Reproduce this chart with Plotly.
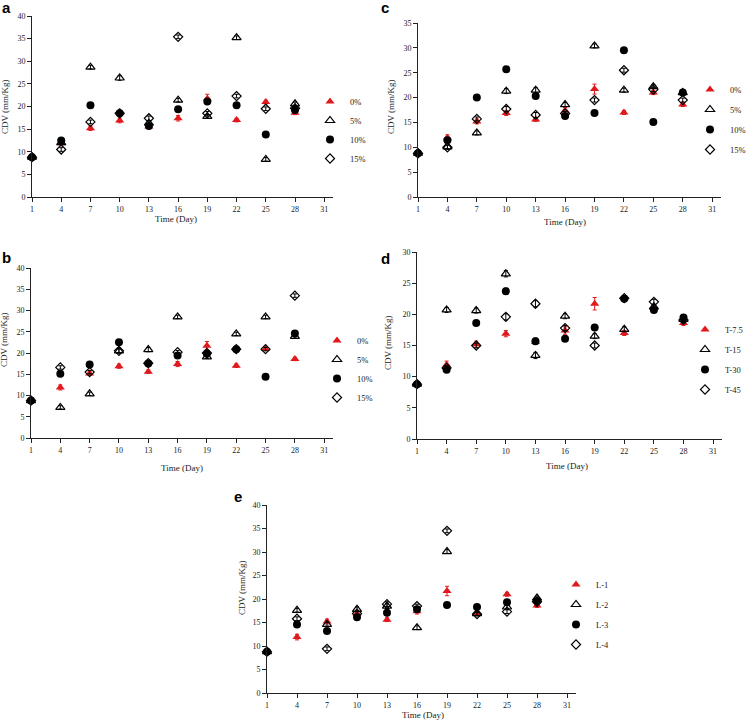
import plotly.graph_objects as go

# ---------------- data ----------------
days = [1, 4, 7, 10, 13, 16, 19, 22, 25, 28]
x_ticks = [1, 4, 7, 10, 13, 16, 19, 22, 25, 28, 31]

ctrl = [8.8, 11.9, 15.2, 16.9, 15.6, 17.4, 21.7, 17.0, 21.0, 18.6]
ctrl_err = [0.2, 0.6, 0.5, 0.5, 0.4, 0.6, 1.0, 0.4, 0.4, 0.4]

a_5 = [8.8, 12.0, 28.7, 26.3, 16.3, 21.4, 17.8, 35.2, 8.3, 20.6]
a_10 = [8.8, 12.5, 20.3, 18.5, 15.7, 19.4, 21.1, 20.3, 13.8, 19.2]
a_15 = [8.8, 10.5, 16.6, 18.5, 17.4, 35.4, 18.5, 22.3, 19.5, 19.6]

b_5 = [8.8, 7.2, 10.4, 20.5, 20.8, 28.5, 19.1, 24.5, 28.5, 23.9]
b_10 = [8.8, 15.1, 17.3, 22.5, 17.5, 19.4, 19.8, 20.9, 14.4, 24.6]
b_15 = [8.8, 16.6, 15.5, 20.5, 17.6, 20.2, 20.0, 20.9, 20.9, 33.5]

c_5 = [8.8, 10.1, 12.9, 21.3, 21.5, 18.6, 30.4, 21.5, 22.2, 21.0]
c_10 = [8.8, 11.4, 20.0, 25.7, 20.3, 16.3, 16.9, 29.5, 15.1, 21.0]
c_15 = [8.8, 10.0, 15.7, 17.7, 16.5, 16.8, 19.5, 25.5, 21.6, 19.5]

d_15 = [8.8, 20.7, 20.6, 26.5, 13.4, 19.7, 16.5, 17.6, 21.2, 19.2]
d_30 = [8.8, 11.1, 18.6, 23.7, 15.7, 16.1, 17.9, 22.5, 20.7, 19.5]
d_45 = [8.8, 11.4, 15.0, 19.6, 21.7, 17.8, 15.0, 22.6, 22.0, 19.1]

e_2 = [8.8, 17.6, 14.6, 17.8, 18.5, 13.9, 30.1, 16.9, 18.3, 20.2]
e_3 = [8.8, 14.6, 13.2, 16.1, 17.1, 17.8, 18.7, 18.3, 19.3, 19.6]
e_4 = [8.8, 15.8, 9.4, 16.9, 18.9, 18.5, 34.5, 16.8, 17.3, 19.4]

err_s = [0.2, 0.4, 0.4, 0.5, 0.5, 0.4, 0.4, 0.4, 0.4, 0.4]

names_pct = ["0%", "5%", "10%", "15%"]
names_t = ["T-7.5", "T-15", "T-30", "T-45"]
names_l = ["L-1", "L-2", "L-3", "L-4"]

# ---------------- layout helpers ----------------
W, H = 746, 723
def px(x):
    return x / W
def py(y):
    return 1 - y / H

SERIF = "Liberation Serif"
RED = "#e0191c"

# leg: left edge x px, top y px of the legend box
panels = [
    dict(k="a", series=[ctrl, a_5, a_10, a_15], names=names_pct,
         x0=32, x1=333, yb=197, yt=16, ymax=40, leg=(310, 87), gap=0,
         lab=(6, 8), ytit=(5, 107), xtit=(176, 219)),
    dict(k="c", series=[ctrl, c_5, c_10, c_15], names=names_pct,
         x0=418, x1=721, yb=197, yt=23, ymax=35, leg=(690, 75), gap=1,
         lab=(385, 8), ytit=(391, 107), xtit=(565, 222)),
    dict(k="b", series=[ctrl, b_5, b_10, b_15], names=names_pct,
         x0=31, x1=333, yb=438, yt=268, ymax=40, leg=(317, 326), gap=0,
         lab=(7, 257), ytit=(4, 340), xtit=(182, 468)),
    dict(k="d", series=[ctrl, d_15, d_30, d_45], names=names_t,
         x0=417, x1=722, yb=439, yt=252, ymax=30, leg=(685, 315), gap=1,
         lab=(385, 258), ytit=(388, 343), xtit=(567, 466)),
    dict(k="e", series=[ctrl, e_2, e_3, e_4], names=names_l,
         x0=267, x1=576, yb=693, yt=505, ymax=40, leg=(556, 570), gap=1,
         lab=(238, 496), ytit=(242, 588), xtit=(423, 715)),
]

styles = [
    dict(symbol="triangle-up", color=RED, size=8, line=dict(width=0, color=RED)),
    dict(symbol="triangle-up-open", color="black", size=8, line=dict(width=1.2, color="black")),
    dict(symbol="circle", color="black", size=8, line=dict(width=0, color="black")),
    dict(symbol="diamond-open", color="black", size=7, line=dict(width=1.2, color="black")),
]
errs = [ctrl_err, err_s, err_s, err_s]

fig = go.Figure()
annotations = []
layout = dict(width=W, height=H, margin=dict(l=0, r=0, t=0, b=0, autoexpand=False),
              paper_bgcolor="white", plot_bgcolor="white", showlegend=True)

for i, p in enumerate(panels):
    n = i + 1
    xa = "x" if n == 1 else f"x{n}"
    ya = "y" if n == 1 else f"y{n}"
    leg = "legend" if n == 1 else f"legend{n}"
    for j, (vals, name) in enumerate(zip(p["series"], p["names"])):
        st = styles[j]
        fig.add_trace(go.Scatter(
            x=days, y=vals, mode="markers", name=name,
            xaxis=xa, yaxis=ya, legend=leg, cliponaxis=False,
            legendgroup=f"{p['k']}{j}",
            marker=dict(symbol=st["symbol"], color=st["color"], size=st["size"], line=st["line"]),
            error_y=dict(type="data", array=errs[j], color=st["color"], thickness=1, width=2),
        ))
    axis_common = dict(showline=True, linecolor="#222", linewidth=1, ticks="outside",
                       ticklen=4, tickcolor="#222", showgrid=False, zeroline=False,
                       automargin=False,
                       tickfont=dict(family=SERIF, size=8, color="#222"))
    layout["xaxis" if n == 1 else f"xaxis{n}"] = dict(
        domain=[px(p["x0"]), px(p["x1"])], range=[1, 31.9], anchor=ya,
        tickmode="array", tickvals=x_ticks, **axis_common)
    layout["yaxis" if n == 1 else f"yaxis{n}"] = dict(
        domain=[py(p["yb"]), py(p["yt"])], range=[0, p["ymax"]], anchor=xa,
        tickmode="linear", tick0=0, dtick=5, **axis_common)
    lx, ly = p["leg"]
    layout[leg] = dict(x=px(lx), y=py(ly), xanchor="left", yanchor="top",
                       bgcolor="rgba(0,0,0,0)", borderwidth=0, tracegroupgap=p["gap"],
                       traceorder="grouped",
                       font=dict(family=SERIF, size=8.5, color="#222"))
    annotations.append(dict(text=f"<b>{p['k']}</b>", x=px(p["lab"][0]), y=py(p["lab"][1]),
                            xref="paper", yref="paper", showarrow=False,
                            xanchor="center", yanchor="middle",
                            font=dict(family="Liberation Sans", size=15, color="black")))
    annotations.append(dict(text="CDV (mm/Kg)", x=px(p["ytit"][0]), y=py(p["ytit"][1]),
                            xref="paper", yref="paper", showarrow=False, textangle=-90,
                            xanchor="center", yanchor="middle",
                            font=dict(family=SERIF, size=9, color="#222")))
    annotations.append(dict(text="Time (Day)", x=px(p["xtit"][0]), y=py(p["xtit"][1]),
                            xref="paper", yref="paper", showarrow=False,
                            xanchor="center", yanchor="middle",
                            font=dict(family=SERIF, size=9, color="#222")))

layout["annotations"] = annotations
fig.update_layout(**layout)
# remove the browser's default 8px body margin so the 746x723 figure fills the window
fig.write_html("out.html", config={"displayModeBar": False},
               post_script="document.body.style.margin='0';document.body.style.overflow='hidden';")
